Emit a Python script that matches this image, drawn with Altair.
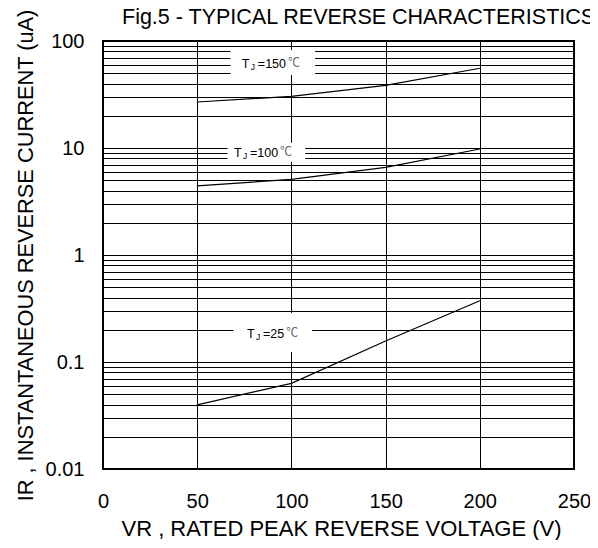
import altair as alt
import pandas as pd

# ---- data ----
VOLTAGE = [50, 100, 150, 200]
IR_150 = [26.9, 30.4, 38.5, 55.6]
IR_100 = [4.42, 5.10, 6.59, 9.79]
IR_25 = [0.0397, 0.0632, 0.157, 0.374]
SERIES = ["150", "100", "25"]

X_TICKS = [0, 50, 100, 150, 200, 250]
Y_TICK_LABELS = ["0.01", "0.1", "1", "10", "100"]
Y_DECADES = [0.01, 0.1, 1, 10]
Y_GRID = [round(m * d, 6) for d in Y_DECADES for m in range(1, 10)] + [100]

TITLE = "Fig.5 - TYPICAL REVERSE CHARACTERISTICS"

# annotation labels (T_J = ...°C) in data units
LABEL_TEMPS = ["150", "100", "25"]
LABEL_X = [73.7, 69.5, 76.4]      # left edge of text (V)
LABEL_Y = [55.6, 8.19, 0.167]     # baseline (uA)
BOX_X1 = [67.7, 66.1, 69.2]
BOX_X2 = [112.6, 107.3, 111.0]
BOX_Y1 = [82.4, 11.2, 0.287]
BOX_Y2 = [48.1, 7.45, 0.124]

FONT = "Liberation Sans"

rows = []
for name, vals in zip(SERIES, [IR_150, IR_100, IR_25]):
    for v, i in zip(VOLTAGE, vals):
        rows.append({"series": name, "v": v, "ir": i})
df = pd.DataFrame(rows)

boxes = pd.DataFrame({"x1": BOX_X1, "x2": BOX_X2, "y1": BOX_Y1, "y2": BOX_Y2})

xs = alt.Scale(domain=[0, 250], nice=False, zero=False)
ys = alt.Scale(type="log", domain=[0.01, 100], nice=False)

label_expr = "indexof(" + str(Y_TICK_LABELS) + ", datum.label) >= 0 ? datum.label : ''"

xaxis = alt.Axis(
    values=X_TICKS, title="VR , RATED PEAK REVERSE VOLTAGE (V)",
    labelFontSize=20, labelPadding=22, labelFont=FONT, labelColor="black",
    titleFont=FONT, titleFontSize=22, titleFontWeight="normal", titleColor="black",
    titleBaseline="alphabetic", titleY=66.5, titleX=238,
    grid=True, ticks=False, domain=False, labelFlush=False,
)
yaxis = alt.Axis(
    values=Y_GRID, format="~g", labelExpr=label_expr,
    title="IR , INSTANTANEOUS REVERSE CURRENT (uA)",
    labelFontSize=20, labelPadding=19, labelFont=FONT, labelColor="black",
    titleFont=FONT, titleFontSize=21.8, titleFontWeight="normal", titleColor="black",
    titleAngle=-90, titleBaseline="alphabetic", titleAlign="center",
    titleX=-71, titleY=214,
    grid=True, ticks=False, domain=False, labelFlush=False,
)

lines = alt.Chart(df).mark_line(color="black", strokeWidth=1.2).encode(
    x=alt.X("v:Q", scale=xs, axis=xaxis),
    y=alt.Y("ir:Q", scale=ys, axis=yaxis),
    detail="series:N",
)

rects = alt.Chart(boxes).mark_rect(color="white", opacity=1).encode(
    x=alt.X("x1:Q", scale=xs, axis=xaxis), x2="x2:Q",
    y=alt.Y("y1:Q", scale=ys, axis=yaxis), y2="y2:Q",
)

title_mark = alt.Chart(pd.DataFrame({"t": [TITLE]})).mark_text(
    align="left", baseline="alphabetic", font=FONT, fontSize=21.5, color="black"
).encode(text="t:N", x=alt.value(19), y=alt.value(-17))

layers = [lines, rects, title_mark]
for t, lx, ly in zip(LABEL_TEMPS, LABEL_X, LABEL_Y):
    d = pd.DataFrame({"x": [lx], "y": [ly]})
    base = alt.Chart(d)
    enc = dict(x=alt.X("x:Q", scale=xs, axis=xaxis), y=alt.Y("y:Q", scale=ys, axis=yaxis))
    main = "=" + t
    cdx = 16 + (0.584 + 0.556 * len(t)) * 12.5 + 2
    layers.append(base.mark_text(text="T", align="left", baseline="alphabetic",
                                 font=FONT, fontSize=12.5, color="black").encode(**enc))
    layers.append(base.mark_text(text="J", align="left", baseline="alphabetic",
                                 font=FONT, fontSize=8.5, dx=9, dy=2, color="black").encode(**enc))
    layers.append(base.mark_text(text=main, align="left", baseline="alphabetic",
                                 font=FONT, fontSize=12.5, dx=16, color="black").encode(**enc))
    layers.append(base.mark_text(text="℃", align="left", baseline="alphabetic",
                                 font="Noto Sans CJK SC", fontSize=12, dx=cdx, dy=-1,
                                 color="#666666").encode(**enc))

chart = alt.layer(*layers).properties(
    width=471, height=428,
    autosize=alt.AutoSizeParams(type="none"),
    padding={"left": 95, "top": 33, "right": 16, "bottom": 71},
).configure_view(stroke="black", strokeWidth=2).configure_axis(
    gridColor="black", gridOpacity=1, gridWidth=1
)

chart.save("out.html", embed_options={"renderer": "svg", "actions": False})
